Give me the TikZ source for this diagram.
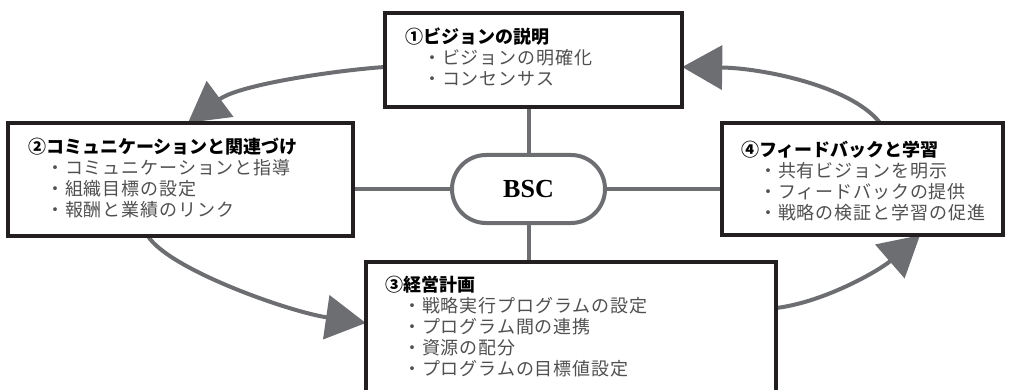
\documentclass[tikz,border=0pt]{standalone}
\usepackage{fontspec}
\newfontfamily\jp{Noto Sans CJK JP}
\newfontfamily\jpi{Noto Sans CJK JP}[LetterSpace=5]
\newfontfamily\bscfont{Liberation Serif}
\usetikzlibrary{arrows.meta}
\definecolor{lgray}{HTML}{6D6E71}
\definecolor{bblack}{HTML}{231F20}
\definecolor{itemgray}{HTML}{505050}
\tikzset{
  box/.style={draw=bblack, line width=4pt, fill=white, rectangle, inner sep=0pt},
  boxtext/.style={anchor=north west, inner sep=0pt, align=left, font=\jp\fontsize{18}{21}\selectfont},
  link/.style={draw=lgray, line width=4pt},
  arr/.style={draw=lgray, line width=4pt, -{Triangle[length=40pt,width=44pt,fill=lgray]}},
  pill/.style={draw=lgray, line width=4pt, fill=white, rectangle, rounded corners=34pt,
    minimum width=153pt, minimum height=68pt, font=\bscfont\bfseries\fontsize{26}{30}\selectfont}
}
\newcommand{\itm}[1]{\quad{\jpi\color{itemgray}・#1}}
\begin{document}
\begin{tikzpicture}[x=1pt,y=-1pt]
\useasboundingbox (0,0) rectangle (1011,390);
% boxes (geometry only, for anchors)
\path (533.5,60) node[minimum width=297pt, minimum height=94pt] (t) {};
\path (180.5,179.5) node[minimum width=345pt, minimum height=113pt] (l) {};
\path (862.5,179) node[minimum width=281pt, minimum height=112pt] (r) {};
\path (571,341) node[minimum width=410pt, minimum height=158pt] (b) {};
\path (528.5,189) node[minimum width=153pt, minimum height=68pt] (c) {};
% links
\draw[link] (c.north) -- (c.north |- t.south);
\draw[link] (c.south) -- (c.south |- b.north);
\draw[link] (c.west) -- (c.west -| l.east);
\draw[link] (c.east) -- (c.east -| r.east);
% arrows
\draw[arr] ([yshift=-7pt]t.west) .. controls (340,70) and (240,84) .. ([xshift=7.5pt]l.north);
\draw[arr] ([xshift=17.5pt]r.north) .. controls (850,85) and (760,68) .. ([yshift=-7pt]t.east);
\draw[arr] ([xshift=-32.5pt]l.south) .. controls (170,270) and (290,312) .. ([yshift=18pt]b.west);
\draw[arr] ([yshift=33pt]b.east) .. controls (825,302) and (880,270) .. ([xshift=57.5pt]r.south);
% drawn boxes
\node[box, minimum width=297pt, minimum height=94pt] (tb) at (t) {};
\node[box, minimum width=345pt, minimum height=113pt] (lb) at (l) {};
\node[box, minimum width=281pt, minimum height=112pt] (rb) at (r) {};
\node[box, minimum width=410pt, minimum height=158pt] (bb) at (b) {};
\node[pill] (bsc) at (c) {BSC};
% texts
\node[boxtext] (tt) at (405,28) {{\bfseries ①ビジョンの説明}\\ \itm{ビジョンの明確化}\\ \itm{コンセンサス}};
\node[boxtext] (lt) at (28,138) {{\bfseries ②コミュニケーションと関連づけ}\\ \itm{コミュニケーションと指導}\\ \itm{組織目標の設定}\\ \itm{報酬と業績のリンク}};
\node[boxtext] (rt) at (741,141) {{\bfseries ④フィードバックと学習}\\ \itm{共有ビジョンを明示}\\ \itm{フィードバックの提供}\\ \itm{戦略の検証と学習の促進}};
\node[boxtext] (bt) at (385,276) {{\bfseries ③経営計画}\\ \itm{戦略実行プログラムの設定}\\ \itm{プログラム間の連携}\\ \itm{資源の配分}\\ \itm{プログラムの目標値設定}};
\end{tikzpicture}
\end{document}
